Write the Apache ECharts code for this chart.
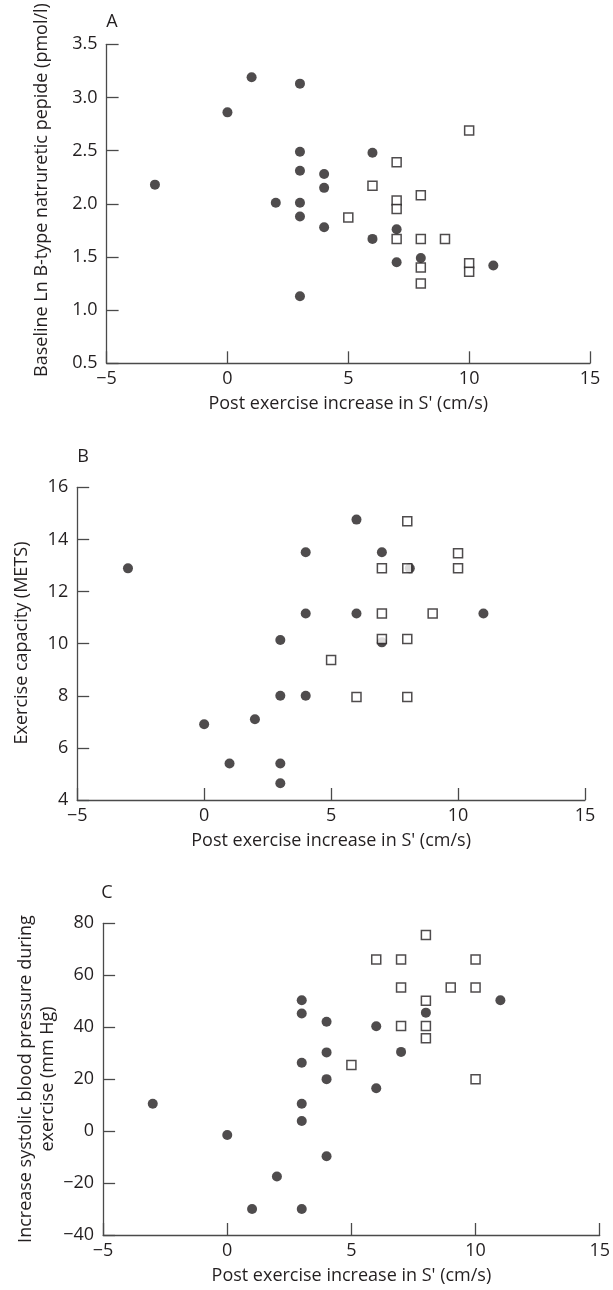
<!DOCTYPE html>
<html>
<head>
<meta charset="utf-8">
<script src="https://cdn.jsdelivr.net/npm/echarts@6/dist/echarts.min.js"></script>
<style>html,body{margin:0;padding:0;background:#fff;}#c{width:613px;height:1290px;}</style>
</head>
<body>
<div id="c"></div>
<script>
// ---- Data ----
const xTicks = [-5, 0, 5, 10, 15];

// Panel A: Baseline Ln BNP
const aCircleX = [-3, 0, 1, 2, 3, 3, 3, 3, 3, 3, 4, 4, 4, 6, 6, 7, 7, 8, 11];
const aCircleY = [2.18, 2.86, 3.19, 2.01, 3.13, 2.49, 2.31, 2.01, 1.88, 1.13, 2.28, 2.15, 1.78, 2.48, 1.67, 1.76, 1.45, 1.49, 1.42];
const aSquareX = [10, 7, 6, 8, 7, 7, 5, 7, 8, 9, 10, 10, 8, 8];
const aSquareY = [2.69, 2.39, 2.17, 2.08, 2.03, 1.95, 1.87, 1.67, 1.67, 1.67, 1.44, 1.36, 1.40, 1.25];

// Panel B: Exercise capacity (METS)
const bCircleX = [-3, 0, 1, 2, 3, 3, 3, 3, 4, 4, 4, 6, 6, 7, 7, 8.1, 11];
const bCircleY = [12.89, 6.91, 5.40, 7.10, 10.14, 8.0, 5.40, 4.64, 13.51, 11.16, 8.0, 14.76, 11.16, 13.51, 10.05, 12.89, 11.16];
const bSquareX = [8, 7, 8, 10, 10, 7, 9, 7, 8, 5, 6, 8];
const bSquareY = [14.70, 12.89, 12.89, 13.47, 12.89, 11.16, 11.16, 10.18, 10.18, 9.37, 7.95, 7.95];

// Panel C: Increase systolic BP
const cCircleX = [3, 3, 4, 6, 8, 11, 4, 7, 3, 4, 6, -3, 3, 3, 0, 4, 2, 1, 3];
const cCircleY = [50.4, 45.3, 42.1, 40.4, 45.6, 50.4, 30.3, 30.5, 26.3, 20, 16.5, 10.5, 10.5, 3.9, -1.5, -9.7, -17.5, -30, -30];
const cSquareX = [8, 6, 7, 10, 7, 9, 10, 8, 7, 8, 8, 5, 10];
const cSquareY = [75.5, 66.1, 66.1, 66.1, 55.3, 55.3, 55.3, 50.2, 40.5, 40.5, 35.7, 25.4, 20.0];

const xTitle = "Post exercise increase in S' (cm/s)";
const yTitleA = "Baseline Ln B-type natruretic pepide (pmol/l)";
const yTitleB = "Exercise capacity (METS)";
const yTitleC1 = "Increase systolic blood pressure during";
const yTitleC2 = "exercise (mm Hg)";

// ---- Styles ----
const FONT = "'Open Sans', 'DejaVu Sans', sans-serif";
const FS = 18;
const INK = '#231f20';
const AXIS = '#4a4a4a';
const minus = v => String(v).replace('-', '\u2212');

function zip(xs, ys) { return xs.map((x, i) => [x, ys[i]]); }

function xAxisCfg(gi) {
  return {
    gridIndex: gi, type: 'value', min: -5, max: 15, interval: 5,
    axisLine: { show: true, onZero: false, lineStyle: { color: AXIS, width: 1.3 } },
    axisTick: { show: true, inside: true, length: 12, lineStyle: { color: AXIS, width: 1.3 } },
    axisLabel: { fontFamily: FONT, fontSize: FS, color: INK, margin: 7, formatter: minus },
    splitLine: { show: false },
    name: xTitle, nameLocation: 'middle', nameGap: 32,
    nameTextStyle: { fontFamily: FONT, fontSize: FS, color: INK }
  };
}
function yAxisCfg(gi, min, max, interval, fmt) {
  return {
    gridIndex: gi, type: 'value', min: min, max: max, interval: interval,
    axisLine: { show: true, onZero: false, lineStyle: { color: AXIS, width: 1.3 } },
    axisTick: { show: true, inside: true, length: 12, lineStyle: { color: AXIS, width: 1.3 } },
    axisLabel: { fontFamily: FONT, fontSize: FS, color: INK, margin: 9, formatter: fmt },
    splitLine: { show: false }
  };
}
function circles(i, data) {
  return { type: 'scatter', xAxisIndex: i, yAxisIndex: i, data: data, symbol: 'circle', symbolSize: 10,
    itemStyle: { color: INK }, z: 2, silent: true };
}
function squares(i, data) {
  return { type: 'scatter', xAxisIndex: i, yAxisIndex: i, data: data, symbol: 'rect', symbolSize: 9,
    itemStyle: { color: '#fff', borderColor: INK, borderWidth: 1.5 }, z: 3, silent: true };
}
function txt(x, y, s, rot) {
  return { type: 'text', x: x, y: y, rotation: rot || 0,
    style: { text: s, fontFamily: FONT, fontSize: FS, fill: INK, align: 'center', verticalAlign: 'middle' } };
}

const chart = echarts.init(document.getElementById('c'), null, { renderer: 'canvas' });
chart.setOption({
  animation: false,
  backgroundColor: '#fff',
  grid: [
    { left: 106.6, top: 44.3, width: 483.4, height: 319 },
    { left: 77.2, top: 487.3, width: 507.8, height: 312.7 },
    { left: 103.1, top: 923.3, width: 502.5, height: 311.7 }
  ],
  xAxis: [xAxisCfg(0), xAxisCfg(1), xAxisCfg(2)],
  yAxis: [
    yAxisCfg(0, 0.5, 3.5, 0.5, v => v.toFixed(1)),
    yAxisCfg(1, 4, 16, 2, minus),
    yAxisCfg(2, -40, 80, 20, minus)
  ],
  series: [
    circles(0, zip(aCircleX, aCircleY)), squares(0, zip(aSquareX, aSquareY)),
    circles(1, zip(bCircleX, bCircleY)), squares(1, zip(bSquareX, bSquareY)),
    circles(2, zip(cCircleX, cCircleY)), squares(2, zip(cSquareX, cSquareY))
  ],
  graphic: [
    txt(112, 22, 'A'),
    txt(83, 457, 'B'),
    txt(107, 893, 'C'),
    txt(42, 190, yTitleA, Math.PI / 2),
    txt(22, 643, yTitleB, Math.PI / 2),
    txt(26, 1079, yTitleC1, Math.PI / 2),
    txt(48, 1079, yTitleC2, Math.PI / 2)
  ]
});
</script>
</body>
</html>
